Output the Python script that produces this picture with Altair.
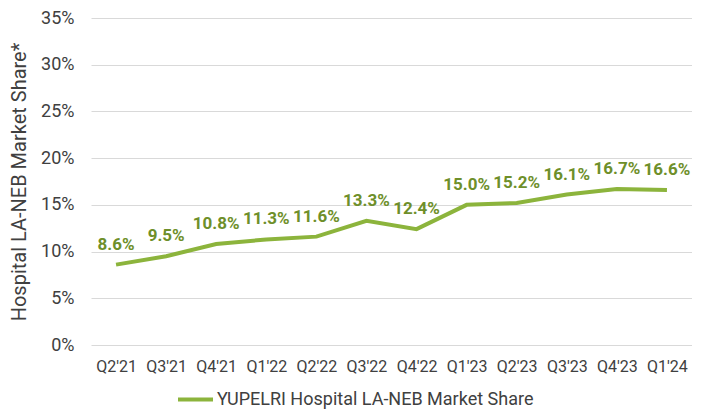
import altair as alt
import pandas as pd

quarters = ["Q2'21", "Q3'21", "Q4'21", "Q1'22", "Q2'22", "Q3'22",
            "Q4'22", "Q1'23", "Q2'23", "Q3'23", "Q4'23", "Q1'24"]
share_pct = [8.6, 9.5, 10.8, 11.3, 11.6, 13.3, 12.4, 15.0, 15.2, 16.1, 16.7, 16.6]
series_name = "YUPELRI Hospital LA-NEB Market Share"

df = pd.DataFrame({
    "quarter": quarters,
    "share": [v / 100 for v in share_pct],
    "label": [f"{v:.1f}%" for v in share_pct],
    "series": [series_name] * len(quarters),
})

LINE = "#8CB43C"
LABEL = "#6E8F2A"
FONT = "Roboto"

x = alt.X("quarter:N", sort=quarters, title=None,
          axis=alt.Axis(labelAngle=0, ticks=False, domain=False, grid=False,
                        labelFontSize=16, labelColor="#404040", labelPadding=13,
                        labelFont=FONT))
y = alt.Y("share:Q", title="Hospital LA-NEB Market Share*",
          scale=alt.Scale(domain=[0, 0.35], nice=False),
          axis=alt.Axis(format=".0%", values=[0, 0.05, 0.10, 0.15, 0.20, 0.25, 0.30, 0.35],
                        ticks=False, domain=False, gridColor="#D9D9D9", gridWidth=1,
                        labelFontSize=18, labelColor="#404040", labelPadding=17,
                        labelFont=FONT, titleFont=FONT, titleFontSize=20,
                        titleFontWeight="normal", titleColor="#404040", titlePadding=11))

line = alt.Chart(df).mark_line(strokeWidth=4, strokeCap="butt").encode(
    x=x, y=y,
    color=alt.Color("series:N", scale=alt.Scale(range=[LINE]), title=None,
                    legend=alt.Legend(orient="none", legendX=85, legendY=362,
                                      symbolType="stroke", symbolSize=1225,
                                      symbolStrokeWidth=4, labelFontSize=18,
                                      labelColor="#404040", labelFont=FONT,
                                      labelLimit=500, direction="horizontal",
                                      symbolOffset=0, labelOffset=2)),
)

labels = alt.Chart(df).mark_text(fontSize=17, fontWeight="bold", color=LABEL,
                                 font=FONT, baseline="alphabetic", dy=-15).encode(
    x=alt.X("quarter:N", sort=quarters), y="share:Q", text="label:N")

chart = (line + labels).properties(
    width=601, height=327,
    padding={"left": 1, "top": 1, "right": 0, "bottom": 0},
).configure(font=FONT, background="white").configure_view(stroke=None)

chart.save("out.html", embed_options={"renderer": "svg", "actions": False})
